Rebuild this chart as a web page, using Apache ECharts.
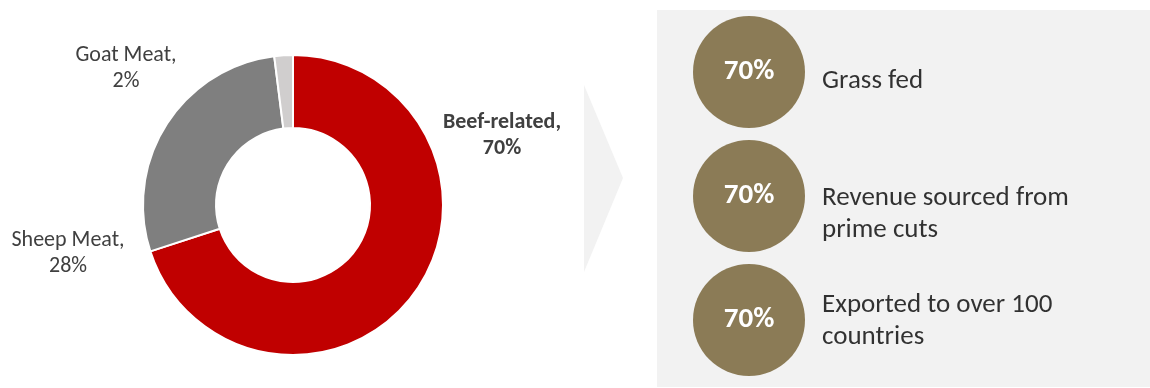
<!DOCTYPE html>
<html>
<head>
<meta charset="utf-8">
<title>Meat production mix</title>
<script src="https://cdn.jsdelivr.net/npm/echarts@6/dist/echarts.min.js"></script>
<style>
  html, body { margin: 0; padding: 0; background: #ffffff; }
  #chart { width: 1150px; height: 388px; }
</style>
</head>
<body>
<div id="chart"></div>
<script>
// Output mix by meat type (share of total, %)
const meatTypes = ['Beef-related', 'Sheep Meat', 'Goat Meat'];
const meatShares = [70, 28, 2];

// Key facts shown beside the donut (share, %)
const factLabels = ['Grass fed', 'Revenue sourced from\nprime cuts', 'Exported to over 100\ncountries'];
const factShares = [70, 70, 70];

// Styling
const sliceColors = ['#C00000', '#7F7F7F', '#D0CECE'];
const sliceLabelWeights = ['bold', 'normal', 'normal'];
const sliceLabelAnchors = [[502, 135], [68, 253], [126, 68]];
const factTextShift = [9, 18, 1];
const FONT = 'Carlito, Lato, "Open Sans", sans-serif';

const chart = echarts.init(document.getElementById('chart'), null, { renderer: 'canvas' });

chart.setOption({
  animation: false,
  backgroundColor: '#ffffff',
  graphic: [
    {
      type: 'rect',
      z: -10,
      shape: { x: 657, y: 10, width: 493, height: 377 },
      style: { fill: '#F2F2F2' }
    },
    {
      type: 'polygon',
      z: -10,
      shape: { points: [[584, 85], [623, 178], [584, 272]] },
      style: { fill: '#F2F2F2' }
    }
  ],
  grid: { left: 693, width: 112, top: 10, height: 372 },
  xAxis: { type: 'category', data: ['share'], show: false },
  yAxis: { type: 'category', data: factLabels, inverse: true, show: false },
  series: [
    {
      type: 'pie',
      center: [293, 205],
      radius: [77, 150],
      startAngle: 90,
      clockwise: true,
      avoidLabelOverlap: false,
      silent: true,
      itemStyle: { borderColor: '#ffffff', borderWidth: 2 },
      labelLine: { show: false },
      label: {
        show: true,
        position: 'outside',
        formatter: p => p.name + ',\n' + p.value + '%',
        fontFamily: FONT,
        fontSize: 22,
        lineHeight: 26,
        color: '#404040',
        align: 'center'
      },
      labelLayout: p => {
        const a = sliceLabelAnchors[p.dataIndex];
        return { x: a[0], y: a[1], align: 'center', verticalAlign: 'middle' };
      },
      data: meatTypes.map((name, i) => ({
        name: name,
        value: meatShares[i],
        itemStyle: { color: sliceColors[i] },
        label: { fontWeight: sliceLabelWeights[i] }
      }))
    },
    {
      type: 'scatter',
      silent: true,
      symbol: 'circle',
      symbolSize: 112,
      itemStyle: { color: '#8B7B56', opacity: 1 },
      label: {
        show: true,
        position: 'inside',
        formatter: p => p.value[2] + '%',
        fontFamily: FONT,
        fontWeight: 'bold',
        fontSize: 29,
        color: '#ffffff'
      },
      data: factShares.map((v, i) => [0, i, v])
    },
    {
      type: 'scatter',
      silent: true,
      symbolSize: 0,
      label: {
        show: true,
        position: 'right',
        distance: 73,
        formatter: p => factLabels[p.value[1]],
        fontFamily: FONT,
        fontSize: 27,
        lineHeight: 32,
        color: '#000000',
        align: 'left'
      },
      data: factShares.map((v, i) => ({
        value: [0, i, v],
        label: { offset: [0, factTextShift[i]] }
      }))
    }
  ]
});
</script>
</body>
</html>
